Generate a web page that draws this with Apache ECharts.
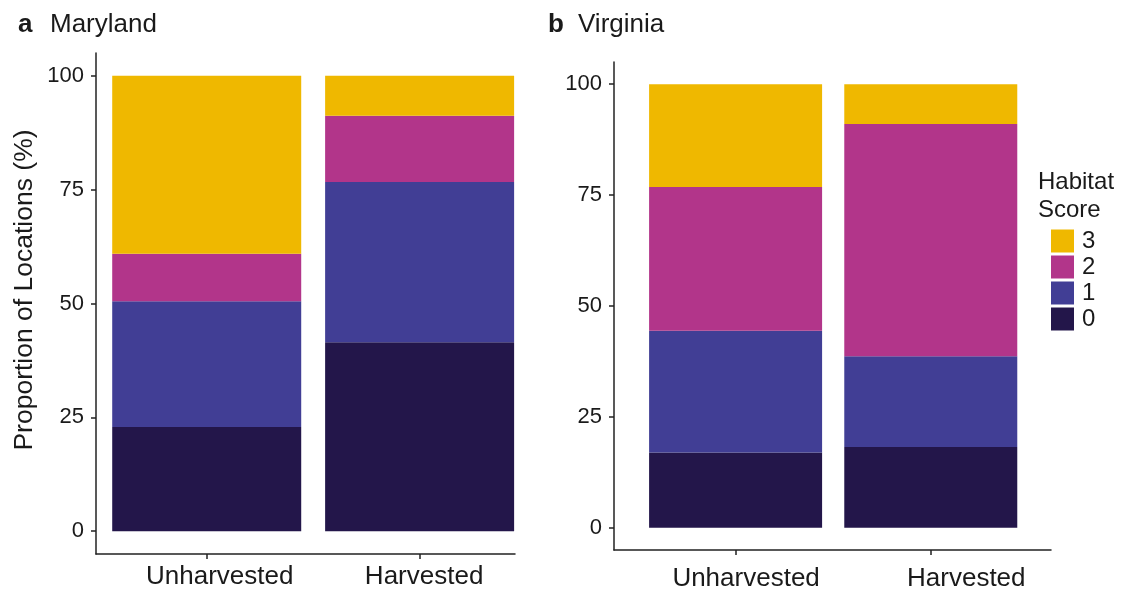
<!DOCTYPE html>
<html>
<head>
<meta charset="utf-8">
<script src="https://cdn.jsdelivr.net/npm/echarts@6/dist/echarts.min.js"></script>
<style>
html,body{margin:0;padding:0;background:#fff;}
#chart{width:1121px;height:589px;}
</style>
</head>
<body>
<div id="chart"></div>
<script>
// ---- data ----
var categories = ['Unharvested', 'Harvested'];
var catPositions = [1, 2];
var scoreNames = ['0', '1', '2', '3'];
var scoreColors = ['#23164a', '#413e95', '#b2358a', '#efb800'];
var yTicks = [0, 25, 50, 75, 100];

// Maryland proportions (%) per habitat score, [Unharvested, Harvested]
var md0 = [22.9, 41.5];
var md1 = [27.6, 35.2];
var md2 = [10.4, 14.5];
var md3 = [39.1, 8.8];

// Virginia proportions (%)
var va0 = [17.0, 18.2];
var va1 = [27.4, 20.5];
var va2 = [32.4, 52.3];
var va3 = [23.2, 9.0];

var FONT = '"Liberation Sans", Arial, Helvetica, sans-serif';
var TXT = '#1a1a1a';

// value first, category position second (encode maps them to y / x)
function pairs(vals) {
  return vals.map(function (v, i) { return [v, catPositions[i]]; });
}

function xAxisCfg(gridIndex, min, max, margin, shifts) {
  var rich = {};
  shifts.forEach(function (s, i) {
    rich['c' + i] = { fontSize: 26, color: TXT, fontFamily: FONT, padding: [0, 0, 0, 2 * s] };
  });
  return {
    type: 'value', gridIndex: gridIndex, min: min, max: max,
    splitLine: { show: false },
    axisLine: { show: true, onZero: false, lineStyle: { color: '#222', width: 1.5 } },
    axisTick: { show: true, length: 5, customValues: catPositions, lineStyle: { color: '#222', width: 1.5 } },
    axisLabel: {
      customValues: catPositions, fontSize: 26, color: TXT, fontFamily: FONT, margin: margin,
      rich: rich,
      formatter: function (v) {
        var i = catPositions.indexOf(v);
        return i < 0 ? '' : '{c' + i + '|' + categories[i] + '}';
      }
    }
  };
}

function yAxisCfg(gridIndex, withName) {
  var c = {
    type: 'value', gridIndex: gridIndex, min: -5, max: 105,
    splitLine: { show: false },
    axisLine: { show: true, onZero: false, lineStyle: { color: '#222', width: 1.5 } },
    axisTick: { show: true, length: 5, customValues: yTicks, lineStyle: { color: '#222', width: 1.5 } },
    axisLabel: { customValues: yTicks, fontSize: 22, color: TXT, fontFamily: FONT, margin: 12 }
  };
  if (withName) {
    c.name = 'Proportion of Locations (%)';
    c.nameLocation = 'middle';
    c.nameGap = 58;
    c.nameTextStyle = { fontSize: 26.5, color: TXT, fontFamily: FONT, padding: [0, 0, 0, 27] };
  }
  return c;
}

var mdSets = [md0, md1, md2, md3];
var vaSets = [va0, va1, va2, va3];
var series = [];
scoreNames.forEach(function (name, k) {
  series.push({
    name: name, type: 'bar', xAxisIndex: 0, yAxisIndex: 0, stack: 'md',
    encode: { x: 1, y: 0 },
    barWidth: 189, itemStyle: { color: scoreColors[k] },
    data: pairs(mdSets[k]), emphasis: { disabled: true }
  });
});
scoreNames.forEach(function (name, k) {
  series.push({
    name: name, type: 'bar', xAxisIndex: 1, yAxisIndex: 1, stack: 'va',
    encode: { x: 1, y: 0 },
    barWidth: 173, itemStyle: { color: scoreColors[k] },
    data: pairs(vaSets[k]), emphasis: { disabled: true }
  });
});

var titleStyle = function (bold) {
  return { fontSize: 26, fontWeight: bold ? 'bold' : 'normal', color: TXT, fontFamily: FONT };
};

var chart = echarts.init(document.getElementById('chart'), null, { renderer: 'canvas' });
chart.setOption({
  animation: false,
  backgroundColor: '#fff',
  textStyle: { fontFamily: FONT },
  title: [
    { text: 'a', left: 18, top: 12, padding: 0, textStyle: titleStyle(true) },
    { text: 'Maryland', left: 50, top: 12, padding: 0, textStyle: titleStyle(false) },
    { text: 'b', left: 548, top: 12, padding: 0, textStyle: titleStyle(true) },
    { text: 'Virginia', left: 578, top: 12, padding: 0, textStyle: titleStyle(false) },
    { text: 'Habitat\nScore', left: 1038, top: 168, padding: 0,
      textStyle: { fontSize: 24, fontWeight: 'normal', color: TXT, fontFamily: FONT, lineHeight: 28 } }
  ],
  legend: {
    data: ['3', '2', '1', '0'],
    orient: 'vertical', left: 1051, top: 229, padding: 0,
    itemWidth: 23, itemHeight: 23, itemGap: 2, icon: 'rect',
    selectedMode: false,
    textStyle: { fontSize: 24, color: TXT, fontFamily: FONT, padding: [0, 0, 0, 3] }
  },
  grid: [
    { left: 96, top: 53, width: 419, height: 501, containLabel: false, outerBoundsMode: 'none' },
    { left: 614, top: 62, width: 437, height: 488, containLabel: false, outerBoundsMode: 'none' }
  ],
  xAxis: [xAxisCfg(0, 0.48, 2.448, 10, [13, 4.5]), xAxisCfg(1, 0.377, 2.616, 16, [10.5, 35.5])],
  yAxis: [yAxisCfg(0, true), yAxisCfg(1, false)],
  series: series
});
</script>
</body>
</html>
